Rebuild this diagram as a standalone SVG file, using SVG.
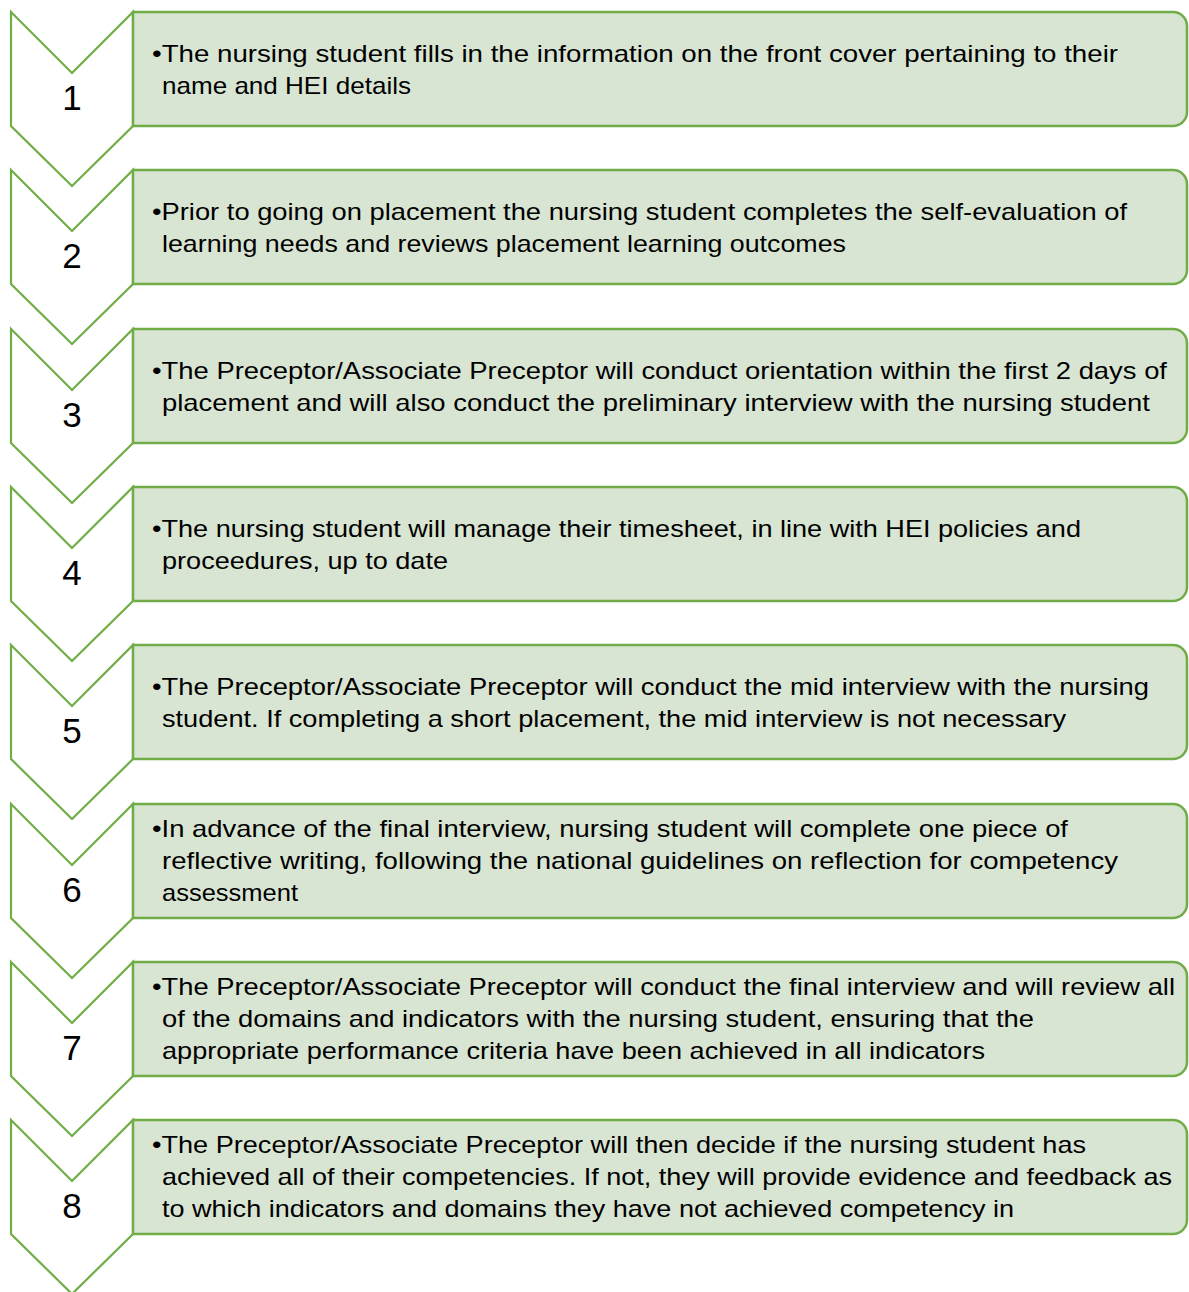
<svg xmlns="http://www.w3.org/2000/svg" width="1189" height="1292" viewBox="0 0 1189 1292">
<defs>
<style>
.chev{fill:#FFFFFF;stroke:#70AD47;stroke-width:2.2;stroke-linejoin:miter}
.box{fill:#D9E5D3;stroke:#70AD47;stroke-width:2.5}
.num{font-family:"Liberation Sans",Arial,sans-serif;font-size:35px;fill:#000;text-anchor:middle}
.txt{font-family:"Liberation Sans",Arial,sans-serif;font-size:24px;fill:#000}
</style>
<path id="chevShape" d="M11,0 L72,61 L133,0 L133,114 L72,174 L11,114 Z"/>
<path id="boxShape" d="M133,0 H1173 A14,14 0 0 1 1187,14 V100 A14,14 0 0 1 1173,114 H133 Z"/>
</defs>
<rect width="1189" height="1292" fill="#FFFFFF"/>
<g id="connectors"></g>

<g id="step1" transform="translate(0,12)">
<use href="#chevShape" class="chev"/>
<use href="#boxShape" class="box"/>
<text class="num" x="72" y="98">1</text>
<text class="txt" x="152" y="50" textLength="966" lengthAdjust="spacingAndGlyphs">•The nursing student fills in the information on the front cover pertaining to their</text>
<text class="txt" x="162" y="82" textLength="249" lengthAdjust="spacingAndGlyphs">name and HEI details</text>
</g>

<g id="step2" transform="translate(0,170)">
<use href="#chevShape" class="chev"/>
<use href="#boxShape" class="box"/>
<text class="num" x="72" y="98">2</text>
<text class="txt" x="152" y="50" textLength="975" lengthAdjust="spacingAndGlyphs">•Prior to going on placement the nursing student completes the self-evaluation of</text>
<text class="txt" x="162" y="82" textLength="684" lengthAdjust="spacingAndGlyphs">learning needs and reviews placement learning outcomes</text>
</g>

<g id="step3" transform="translate(0,329)">
<use href="#chevShape" class="chev"/>
<use href="#boxShape" class="box"/>
<text class="num" x="72" y="98">3</text>
<text class="txt" x="152" y="50" textLength="1015" lengthAdjust="spacingAndGlyphs">•The Preceptor/Associate Preceptor will conduct orientation within the first 2 days of</text>
<text class="txt" x="162" y="82" textLength="988" lengthAdjust="spacingAndGlyphs">placement and will also conduct the preliminary interview with the nursing student</text>
</g>

<g id="step4" transform="translate(0,487)">
<use href="#chevShape" class="chev"/>
<use href="#boxShape" class="box"/>
<text class="num" x="72" y="98">4</text>
<text class="txt" x="152" y="50" textLength="929" lengthAdjust="spacingAndGlyphs">•The nursing student will manage their timesheet, in line with HEI policies and</text>
<text class="txt" x="162" y="82" textLength="286" lengthAdjust="spacingAndGlyphs">proceedures, up to date</text>
</g>

<g id="step5" transform="translate(0,645)">
<use href="#chevShape" class="chev"/>
<use href="#boxShape" class="box"/>
<text class="num" x="72" y="98">5</text>
<text class="txt" x="152" y="50" textLength="997" lengthAdjust="spacingAndGlyphs">•The Preceptor/Associate Preceptor will conduct the mid interview with the nursing</text>
<text class="txt" x="162" y="82" textLength="904" lengthAdjust="spacingAndGlyphs">student. If completing a short placement, the mid interview is not necessary</text>
</g>

<g id="step6" transform="translate(0,804)">
<use href="#chevShape" class="chev"/>
<use href="#boxShape" class="box"/>
<text class="num" x="72" y="98">6</text>
<text class="txt" x="152" y="33" textLength="916" lengthAdjust="spacingAndGlyphs">•In advance of the final interview, nursing student will complete one piece of</text>
<text class="txt" x="162" y="65" textLength="956" lengthAdjust="spacingAndGlyphs">reflective writing, following the national guidelines on reflection for competency</text>
<text class="txt" x="162" y="97" textLength="136" lengthAdjust="spacingAndGlyphs">assessment</text>
</g>

<g id="step7" transform="translate(0,962)">
<use href="#chevShape" class="chev"/>
<use href="#boxShape" class="box"/>
<text class="num" x="72" y="98">7</text>
<text class="txt" x="152" y="33" textLength="1023" lengthAdjust="spacingAndGlyphs">•The Preceptor/Associate Preceptor will conduct the final interview and will review all</text>
<text class="txt" x="162" y="65" textLength="872" lengthAdjust="spacingAndGlyphs">of the domains and indicators with the nursing student, ensuring that the</text>
<text class="txt" x="162" y="97" textLength="823" lengthAdjust="spacingAndGlyphs">appropriate performance criteria have been achieved in all indicators</text>
</g>

<g id="step8" transform="translate(0,1120)">
<use href="#chevShape" class="chev"/>
<use href="#boxShape" class="box"/>
<text class="num" x="72" y="98">8</text>
<text class="txt" x="152" y="33" textLength="934" lengthAdjust="spacingAndGlyphs">•The Preceptor/Associate Preceptor will then decide if the nursing student has</text>
<text class="txt" x="162" y="65" textLength="1010" lengthAdjust="spacingAndGlyphs">achieved all of their competencies. If not, they will provide evidence and feedback as</text>
<text class="txt" x="162" y="97" textLength="852" lengthAdjust="spacingAndGlyphs">to which indicators and domains they have not achieved competency in</text>
</g>
</svg>
